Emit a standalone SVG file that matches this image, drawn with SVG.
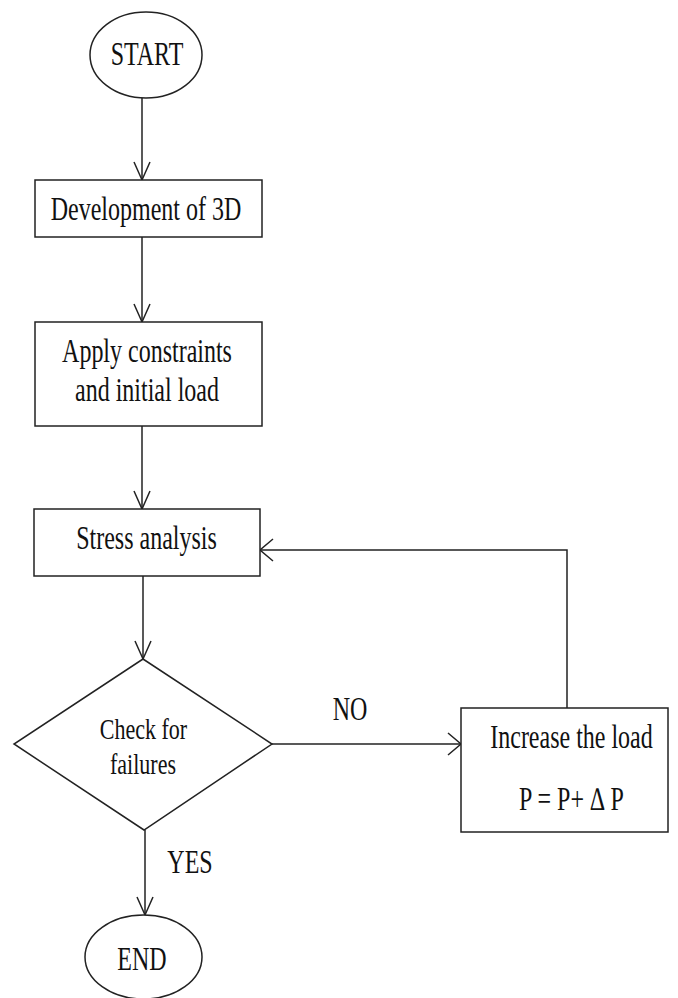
<svg xmlns="http://www.w3.org/2000/svg" width="678" height="998" viewBox="0 0 678 998">
<style>
.shape{fill:#fff;stroke:#222;stroke-width:1.5}
.conn{fill:none;stroke:#222;stroke-width:1.5}
.t{font-family:"Liberation Serif","Times New Roman",serif;font-size:24px;fill:#111;text-anchor:middle}
.s{font-size:22px}
</style>
<defs>
<marker id="arrV" markerUnits="userSpaceOnUse" markerWidth="24" markerHeight="24" refX="18" refY="8" orient="auto" overflow="visible">
<polyline points="0,0 18,8 0,16" fill="none" stroke="#222" stroke-width="1.5"/>
</marker>
<marker id="arrH" markerUnits="userSpaceOnUse" markerWidth="24" markerHeight="24" refX="13" refY="11" orient="auto" overflow="visible">
<polyline points="0,0 13,11 0,22" fill="none" stroke="#222" stroke-width="1.5"/>
</marker>
</defs>
<rect width="678" height="998" fill="#fff"/>
<g id="connectors">
<line class="conn" x1="142" y1="98" x2="142" y2="180" marker-end="url(#arrV)"/>
<line class="conn" x1="142" y1="237" x2="142" y2="322" marker-end="url(#arrV)"/>
<line class="conn" x1="142" y1="426" x2="142" y2="509" marker-end="url(#arrV)"/>
<line class="conn" x1="143" y1="576" x2="143" y2="659" marker-end="url(#arrV)"/>
<line class="conn" x1="272" y1="744" x2="461" y2="744" marker-end="url(#arrH)"/>
<polyline class="conn" points="567,708 567,550 260,550" marker-end="url(#arrH)"/>
<line class="conn" x1="145" y1="830" x2="145" y2="915" marker-end="url(#arrV)"/>
<text class="t" transform="translate(350,720) scale(1,1.38)">NO</text>
<text class="t" transform="translate(190,873) scale(1,1.38)">YES</text>
</g>
<g id="start">
<ellipse class="shape" cx="146" cy="55" rx="56" ry="43"/>
<text class="t" transform="translate(147,65) scale(1,1.38)">START</text>
</g>
<g id="development">
<rect class="shape" x="35" y="180" width="227" height="57"/>
<text class="t" transform="translate(146,220) scale(1,1.38)">Development of 3D</text>
</g>
<g id="apply">
<rect class="shape" x="35" y="322" width="227" height="104"/>
<text class="t" transform="translate(147,362) scale(1,1.38)">Apply constraints</text>
<text class="t" transform="translate(147,401) scale(1,1.38)">and initial load</text>
</g>
<g id="stress">
<rect class="shape" x="34" y="509" width="226" height="67"/>
<text class="t" transform="translate(146.5,549) scale(1,1.38)">Stress analysis</text>
</g>
<g id="check">
<polygon class="shape" points="143,659 272,744 144,830 14,744"/>
<text class="t s" transform="translate(143.5,739) scale(1,1.36)">Check for</text>
<text class="t s" transform="translate(143,774) scale(1,1.36)">failures</text>
</g>
<g id="increase">
<rect class="shape" x="461" y="708" width="207" height="124"/>
<text class="t" transform="translate(571.5,748) scale(1,1.38)">Increase the load</text>
<text class="t" transform="translate(571.5,810) scale(1,1.38)">P = P+ ∆ P</text>
</g>
<g id="end">
<ellipse class="shape" cx="143.5" cy="957" rx="58.5" ry="42"/>
<text class="t" transform="translate(142,970) scale(1,1.38)">END</text>
</g>
</svg>
